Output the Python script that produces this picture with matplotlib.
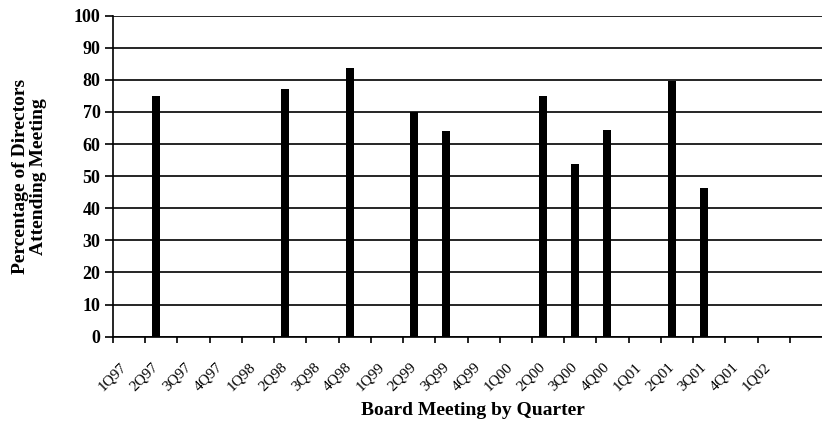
import matplotlib
matplotlib.use("Agg")
import matplotlib.pyplot as plt
import matplotlib.transforms as mtransforms
import numpy as np

quarters = ["1Q97", "2Q97", "3Q97", "4Q97", "1Q98", "2Q98", "3Q98", "4Q98",
            "1Q99", "2Q99", "3Q99", "4Q99", "1Q00", "2Q00", "3Q00", "4Q00",
            "1Q01", "2Q01", "3Q01", "4Q01", "1Q02", ""]
attendance = [np.nan, 75.0, np.nan, np.nan, np.nan, 77.3, np.nan, 83.8,
              np.nan, 70.0, 64.1, np.nan, np.nan, 75.0, 53.7, 64.3,
              np.nan, 79.7, 46.4, np.nan, np.nan, np.nan]

plt.rcParams['font.family'] = ['Liberation Serif', 'DejaVu Serif']

fig = plt.figure(figsize=(8.22, 4.25), dpi=100)
ax = fig.add_axes([0.1375, 0.208, 0.8625, 0.755])

x = np.arange(len(quarters))
ax.bar(x - 0.16, attendance, width=0.25, color='black', zorder=3)

ax.set_xlim(-0.5, len(quarters) - 0.5)
ax.set_ylim(0, 100)
ax.set_yticks(np.arange(0, 101, 10))
ax.yaxis.grid(True, color='black', linewidth=1.2, zorder=1)
ax.set_axisbelow(True)

for s in ['top', 'right']:
    ax.spines[s].set_visible(False)
ax.spines['left'].set_linewidth(1.2)
ax.spines['bottom'].set_linewidth(1.2)

ax.tick_params(axis='y', direction='out', length=6, width=1.2, pad=3,
               labelsize=13)
for lab in ax.get_yticklabels():
    lab.set_fontweight('bold')

ax.set_xticks(x)
ax.set_xticklabels(quarters, rotation=45, ha='right', va='center',
                   rotation_mode='anchor', fontsize=11)
ax.tick_params(axis='x', which='major', length=0, pad=20)
shift = mtransforms.ScaledTranslation(-5 / 100, 0, fig.dpi_scale_trans)
for lab in ax.get_xticklabels():
    lab.set_transform(lab.get_transform() + shift)
ax.set_xticks(np.arange(-0.5, len(quarters) - 1, 1.0), minor=True)
ax.tick_params(axis='x', which='minor', direction='out', length=4, width=1.2)

ax.set_xlabel("Board Meeting by Quarter", fontsize=14, fontweight='bold',
              va='center')
ax.xaxis.set_label_coords(0.508, -0.231)
ax.set_ylabel("Percentage of Directors\nAttending Meeting", fontsize=14,
              fontweight='bold', va='center', linespacing=1.1)
ax.yaxis.set_label_coords(-0.118, 0.5)

fig.savefig("out.png", dpi=100)
